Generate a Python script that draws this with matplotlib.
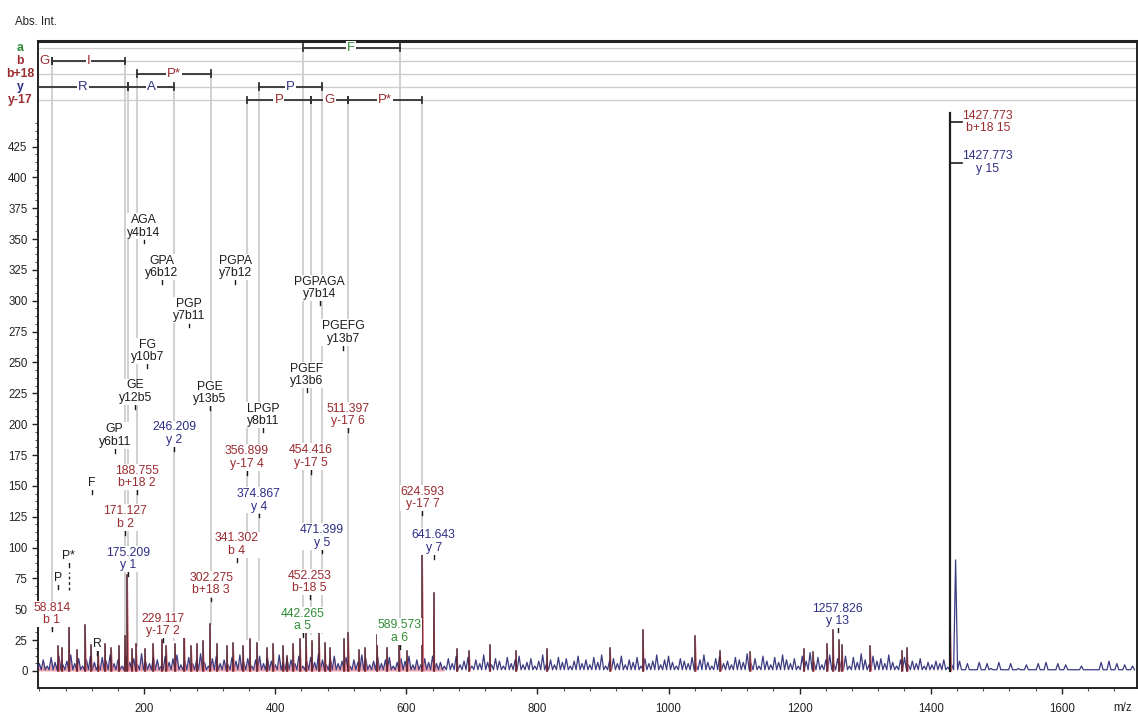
import numpy as np
import matplotlib
matplotlib.use("Agg")
import matplotlib.pyplot as plt
from matplotlib.ticker import MultipleLocator

plt.rcParams['font.family'] = ['Liberation Sans', 'DejaVu Sans']

RED = '#9a2b2f'
BLUE = '#2e2e84'
GREEN = '#2f8f35'
BLACK = '#1c1c1c'
GRAY = '#cdcdcd'

# profile (noise) peak heights, one every 6 m/z starting at 40
noise_int = [
    # 40 - 646
    6, 9, 4, 11, 7, 12, 5, 8, 13, 6, 10, 4, 9, 12, 7, 5, 11,
    8, 13, 6, 9, 4, 12, 7, 10, 5, 14, 8, 6, 11, 9, 4, 12,
    7, 10, 13, 5, 8, 11, 6, 9, 14, 7, 4, 10, 12, 6, 9, 5,
    11, 8, 13, 7, 10, 4, 9, 12, 6, 11, 8, 5, 13, 7, 10, 9,
    6, 12, 4, 8, 11, 7, 14, 9, 5, 10, 12, 6, 8, 11, 4, 9,
    7, 13, 10, 5, 8, 12, 6, 9, 11, 4, 7, 10, 8, 12, 5, 9,
    5, 10, 7, 12, 6,
    # 652 - 1420
    7, 4, 10, 6, 12, 5, 8, 11, 4, 9, 6, 13, 7, 5, 10, 8,
    4, 11, 6, 9, 12, 5, 7, 10, 4, 8, 13, 6, 9, 5, 11, 7,
    10, 4, 8, 12, 6, 9, 5, 11, 7, 13, 4, 8, 10, 6, 12, 5,
    9, 7, 11, 4, 10, 6, 8, 13, 5, 9, 12, 7, 4, 10, 8, 6,
    11, 5, 9, 13, 7, 4, 10, 12, 6, 8, 5, 11, 9, 7, 14, 6,
    10, 4, 12, 8, 5, 11, 7, 13, 9, 6, 10, 4, 12, 8, 15, 7,
    11, 5, 9, 13, 6, 10, 8, 12, 4, 11, 7, 14, 9, 5, 12, 8,
    10, 6, 13, 7, 4, 9, 11, 5, 8, 6, 10, 4, 7, 5, 8, 6,
    9,
    # 1426 - 1708
    3, 5, 90, 8, 1, 6, 1, 1, 7, 1, 6, 2, 1, 7, 1, 1, 6, 1, 2, 1,
    5, 1, 1, 6, 1, 7, 1, 1, 6, 1, 5, 1, 1, 1, 4, 1, 1, 1, 1, 7,
    1, 8, 1, 6, 1, 5, 1, 4,
]
NOISE_START = 40
NOISE_STEP = 6
BASELINE = 1

# centroid sticks
stick_mz = [69, 74, 85, 97, 110, 119, 130, 140, 150, 161, 170.5, 174.5, 181, 188,
            201, 214, 226.5, 234, 247, 261, 272, 280, 290, 300, 310.5, 326, 336,
            351, 361, 372, 387, 397, 412, 418, 427.5, 438, 447, 455.5, 467, 476,
            483.5, 505, 511.6, 527, 537, 555, 570, 589.5, 600.6, 624.6, 641.6,
            677, 696, 727, 767, 814, 911, 961, 1041, 1079, 1125, 1206, 1221,
            1242, 1251, 1260, 1265, 1308, 1356, 1364]
stick_int = [20, 19, 36, 17, 37, 21, 18, 22, 19, 20, 28, 78, 18, 22,
             18, 22, 25, 20, 22, 45, 20, 22, 24, 38, 22, 20, 23,
             20, 26, 23, 19, 22, 20, 12, 22, 26, 31, 24, 31, 23,
             19, 26, 31, 17, 19, 29, 19, 23, 16, 94, 63,
             18, 16, 21, 16, 18, 19, 33, 28, 16, 15, 18, 15,
             22, 33, 25, 21, 20, 16, 19]

# parent ion
parent_mz = 1430
parent_int = 452

# sequence rows
row_names = ['a', 'b', 'b+18', 'y', 'y-17']
row_colors = [GREEN, RED, RED, BLUE, RED]
row_level = [505, 494.3, 483.8, 473.5, 462.7]

# sequence tags: row, start m/z (None = from axis), end m/z, residue
tag_rows = ['a', 'b', 'b', 'b+18', 'y', 'y', 'y', 'y-17', 'y-17', 'y-17']
tag_start = [442.265, None, 58.814, 188.755, None, 175.209, 374.867, 356.899, 454.416, 511.397]
tag_end = [589.573, 58.814, 171.127, 302.275, 175.209, 246.209, 471.399, 454.416, 511.397, 624.593]
tag_res = ['F', 'G', 'I', 'P*', 'R', 'A', 'P', 'P', 'G', 'P*']

# guide lines from the sequence rows down to the matched peaks
guide_mz = [58.814, 171.127, 175.209, 188.755, 246.209, 302.275, 356.899,
            374.867, 442.265, 454.416, 471.399, 511.397, 589.573, 624.593]
guide_row = ['b', 'b', 'y', 'b+18', 'y', 'b+18', 'y-17',
             'y', 'a', 'y-17', 'y', 'y-17', 'a', 'y-17']
guide_end = [33, 28, 78, 20, 25, 38, 26, 25, 29, 30, 31, 31, 23, 94]

# peak annotations: text, m/z, label height
red_labels = [("58.814\nb 1", 58.814, 33.8), ("171.127\nb 2", 171.127, 112),
              ("188.755\nb+18 2", 188.755, 145), ("229.117\ny-17 2", 229.117, 25),
              ("302.275\nb+18 3", 302.275, 58), ("341.302\nb 4", 341.302, 90),
              ("356.899\ny-17 4", 356.899, 160.7), ("452.253\nb-18 5", 452.253, 60),
              ("454.416\ny-17 5", 454.416, 161.5), ("511.397\ny-17 6", 511.397, 195),
              ("624.593\ny-17 7", 624.593, 128)]
blue_labels = [("175.209\ny 1", 175.209, 78.6), ("246.209\ny 2", 246.209, 180),
               ("374.867\ny 4", 374.867, 126), ("471.399\ny 5", 471.399, 96.7),
               ("641.643\ny 7", 641.643, 92.6), ("1257.826\ny 13", 1257.826, 33)]
green_labels = [("442.265\na 5", 442.265, 29), ("589.573\na 6", 589.573, 19.7)]
black_labels = [("AGA\ny4b14", 199.5, 348), ("GPA\ny6b12", 227, 315),
                ("PGPA\ny7b12", 339, 315), ("PGP\ny7b11", 268, 280),
                ("FG\ny10b7", 205, 247), ("GE\ny12b5", 186.6, 214),
                ("PGE\ny13b5", 300, 213), ("GP\ny6b11", 155, 178.5),
                ("LPGP\ny8b11", 381.7, 195), ("PGEF\ny13b6", 448, 227.7),
                ("PGPAGA\ny7b14", 467.5, 298), ("PGEFG\ny13b7", 504, 262),
                ("F", 119.7, 145), ("P*", 85, 86), ("P", 68.7, 68), ("R", 128.7, 14.6)]

# parent labels (text, label height, colour)
parent_labels = [("1427.773\nb+18 15", 445, RED), ("1427.773\ny 15", 412, BLUE)]

XMIN, XMAX = 38, 1714
YMIN, YMAX = -13.8, 510.5

fig = plt.figure(figsize=(11.38, 7.15), dpi=100)
ax = fig.add_axes([38 / 1138, 27 / 715, (1136.5 - 38) / 1138, (688 - 41) / 715])
ax.set_xlim(XMIN, XMAX)
ax.set_ylim(YMIN, YMAX)

# sequence row lines
for lvl in row_level:
    ax.plot([XMIN, XMAX], [lvl, lvl], color=GRAY, lw=1.0, zorder=1)

# guide lines
for mz, row, end in zip(guide_mz, guide_row, guide_end):
    top = row_level[row_names.index(row)]
    ax.plot([mz, mz], [end, top], color=GRAY, lw=1.3, zorder=1)

# noise profile
noise_mz = NOISE_START + NOISE_STEP * np.arange(len(noise_int))
px = np.column_stack([noise_mz - NOISE_STEP / 2, noise_mz]).ravel()
py = np.column_stack([np.full(len(noise_int), BASELINE), noise_int]).ravel()
px = np.append(px, noise_mz[-1] + NOISE_STEP / 2)
py = np.append(py, BASELINE)
low = px < 660
ax.fill_between(px[low], 0, py[low], color='#e97d89', alpha=0.7, lw=0, zorder=2)
ax.plot(px, py, color='#3b3b82', lw=0.9, zorder=3)

# sticks
for mz, h in zip(stick_mz, stick_int):
    ax.fill_between([mz - 2, mz, mz + 2], 0, [0, h, 0], color='#d9606e', alpha=0.85, lw=0, zorder=3)
    ax.plot([mz, mz], [0, h], color='#4e1a26', lw=1.1, zorder=4)

ax.plot([parent_mz, parent_mz], [0, parent_int], color=BLACK, lw=1.6, zorder=4)
ax.fill_between([parent_mz - 2, parent_mz, parent_mz + 2], 0, [0, 40, 0],
                color='#e0707c', lw=0, zorder=3)
for txt, yl, col in parent_labels:
    ax.plot([parent_mz, parent_mz + 18], [yl, yl], color=BLACK, lw=1.2, zorder=5)
    ax.text(1487, yl, txt, ha='center', va='center', color=col, fontsize=8.8,
            linespacing=1.05, zorder=6)


def label(txt, mz, y, col):
    ax.plot([mz, mz], [y - 1.5, y + 1.5], color=BLACK, lw=1.0, zorder=6)
    ax.text(mz, y + 2.4, txt, ha='center', va='bottom', color=col, fontsize=8.8,
            linespacing=1.05, zorder=7,
            bbox=dict(fc='white', ec='none', pad=0.6))


for lst, col in [(red_labels, RED), (blue_labels, BLUE), (green_labels, GREEN),
                 (black_labels, BLACK)]:
    for txt, mz, y in lst:
        label(txt, mz, y, col)

# dashed tail under P*
ax.plot([85, 85], [66, 80], color=BLACK, lw=1.0, ls=(0, (2, 2)), zorder=6)

# sequence brackets
for row, s, e, res in zip(tag_rows, tag_start, tag_end, tag_res):
    i = row_names.index(row)
    lvl = row_level[i]
    col = row_colors[i]
    x0 = XMIN if s is None else s
    ax.plot([x0, e], [lvl, lvl], color='#333333', lw=1.3, zorder=8)
    ends = [e] if s is None else [s, e]
    for xe in ends:
        ax.plot([xe, xe], [lvl - 2.8, lvl + 2.8], color='#333333', lw=1.3, zorder=8)
    ax.text((x0 + e) / 2, lvl, res, ha='center', va='center', color=col, fontsize=9.5,
            zorder=9, bbox=dict(fc='white', ec='none', pad=0.8))

# row names
for name, col, lvl in zip(row_names, row_colors, row_level):
    ax.text(-0.0165, lvl, name, transform=ax.get_yaxis_transform(), ha='center', va='center',
            color=col, fontsize=8.8, fontweight='bold', clip_on=False)

# axes styling
for side in ['left', 'bottom', 'right']:
    ax.spines[side].set_linewidth(1.4)
    ax.spines[side].set_color('#222222')
ax.spines['top'].set_linewidth(2.2)
ax.spines['top'].set_color('#222222')

ax.set_yticks(np.arange(0, 426, 25))
ax.set_yticks([t for t in np.arange(0, 451, 6.25) if t % 25], minor=True)
ax.set_xticks([t for t in range(200, 1700, 200)])
ax.xaxis.set_minor_locator(MultipleLocator(40))
ax.tick_params(axis='both', which='major', direction='out', length=4, width=1,
               labelsize=8.3, colors='#222222')
ax.tick_params(axis='both', which='minor', direction='out', length=2.5, width=0.8,
               colors='#555555')
ax.tick_params(axis='x', pad=7)

fig.text(15 / 1138, 1 - 22 / 715, 'Abs. Int.', ha='left', va='center', fontsize=8.3, color='#222222')
fig.text(1123 / 1138, 1 - 708 / 715, 'm/z', ha='center', va='center', fontsize=8.3, color='#222222')

fig.savefig('out.png', dpi=100)
